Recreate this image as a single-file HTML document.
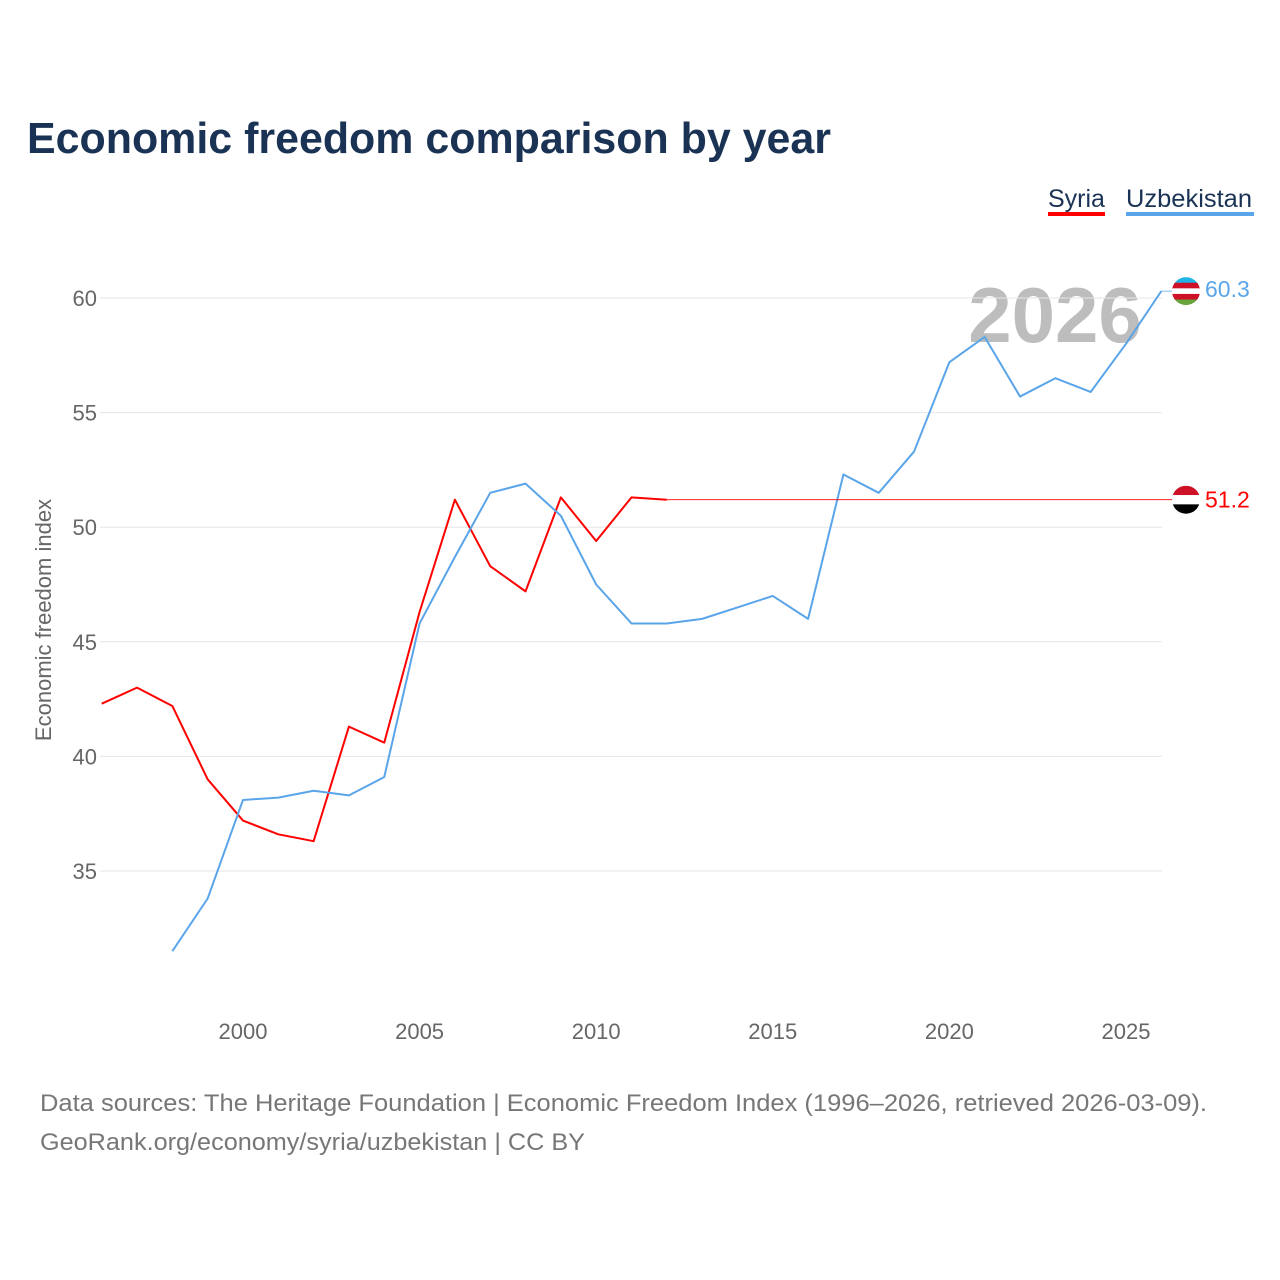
<!DOCTYPE html>
<html><head><meta charset="utf-8">
<style>
body{margin:0;background:#fff;font-family:"Liberation Sans",sans-serif;}
#wrap{position:relative;width:1280px;height:1280px;overflow:hidden;}
</style></head>
<body>
<div id="wrap">
<svg id="chart" width="1280" height="1280">
<text x="27" y="153" font-size="44" font-weight="bold" fill="#1a3354" textLength="804" lengthAdjust="spacingAndGlyphs">Economic freedom comparison by year</text>
<g>
<text x="1048" y="207" font-size="25" fill="#1a3354">Syria</text>
<rect x="1048" y="212" width="57" height="4" fill="#ff0000"/>
<text x="1126" y="207" font-size="25" fill="#1a3354" textLength="126" lengthAdjust="spacingAndGlyphs">Uzbekistan</text>
<rect x="1126" y="212" width="128" height="4" fill="#5aa5ea"/>
</g>
<text x="1055" y="342" font-size="78" font-weight="bold" fill="#bdbdbd" text-anchor="middle">2026</text>
<g id="grid"></g>
<g id="xaxis"></g>
<text transform="translate(51,620) rotate(-90)" font-size="22" fill="#666" text-anchor="middle">Economic freedom index</text>
<g id="series"></g>
<text x="40" y="1111" font-size="24" fill="#777" textLength="1167" lengthAdjust="spacingAndGlyphs">Data sources: The Heritage Foundation | Economic Freedom Index (1996–2026, retrieved 2026-03-09).</text>
<text x="40" y="1150" font-size="24" fill="#777" textLength="545" lengthAdjust="spacingAndGlyphs">GeoRank.org/economy/syria/uzbekistan | CC BY</text>
</svg>
</div>
<script>
const yTicks=[35,40,45,50,55,60];
const xTicks=[2000,2005,2010,2015,2020,2025];
const syriaYears=[1996,1997,1998,1999,2000,2001,2002,2003,2004,2005,2006,2007,2008,2009,2010,2011,2012];
const syriaVals=[42.3,43.0,42.2,39.0,37.2,36.6,36.3,41.3,40.6,46.3,51.2,48.3,47.2,51.3,49.4,51.3,51.2];
const uzbYears=[1998,1999,2000,2001,2002,2003,2004,2005,2006,2007,2008,2009,2010,2011,2012,2013,2014,2015,2016,2017,2018,2019,2020,2021,2022,2023,2024,2025,2026];
const uzbVals=[31.5,33.8,38.1,38.2,38.5,38.3,39.1,45.8,48.7,51.5,51.9,50.5,47.5,45.8,45.8,46.0,46.5,47.0,46.0,52.3,51.5,53.3,57.2,58.3,55.7,56.5,55.9,58.0,60.3];
const lastYear=2026;
const X=y=>101.7+(y-1996)*35.32;
const Y=v=>298+(60-v)*22.92;
const NS="http://www.w3.org/2000/svg";
function mk(tag,attrs,parent){const e=document.createElementNS(NS,tag);for(const k in attrs)e.setAttribute(k,attrs[k]);parent.appendChild(e);return e;}
const grid=document.getElementById('grid');
yTicks.forEach(v=>{
 const l=mk('line',{x1:100,x2:1162,y1:Y(v),y2:Y(v),stroke:'#e6e6e6','stroke-width':1},grid);
 
 
 const t=mk('text',{x:97,y:Y(v)+8,'font-size':22,fill:'#666','text-anchor':'end'},grid);
 t.textContent=v;
 
 
});
const xa=document.getElementById('xaxis');
xTicks.forEach(y=>{
 const t=mk('text',{x:X(y),y:1039,'font-size':22,fill:'#666','text-anchor':'middle'},xa);
 t.textContent=y;
 
 
});
const s=document.getElementById('series');
function line(years,vals,color,name){
 const p=mk('polyline',{points:years.map((y,i)=>X(y)+','+Y(vals[i])).join(' '),fill:'none',stroke:color,'stroke-width':2,'stroke-linejoin':'round'},s);
 
 
}
line(syriaYears,syriaVals,'#ff0000','syria-line');
line(uzbYears,uzbVals,'#5aa5ea','uzbekistan-line');
const sLast=syriaVals[syriaVals.length-1];
const ext=mk('line',{x1:X(syriaYears[syriaYears.length-1]),x2:X(lastYear)+25,y1:Y(sLast),y2:Y(sLast),stroke:'#ff0000','stroke-width':0.8},s);


const uLast=uzbVals[uzbVals.length-1];
const uext=mk('line',{x1:X(lastYear),x2:X(lastYear)+25,y1:Y(uLast),y2:Y(uLast),stroke:'#5aa5ea','stroke-width':0.8},s);


function flag(cy,cols,name){
 const g=mk('g',{},s);
 
 
 const cp='clip-'+name;
 const c=mk('clipPath',{id:cp},g);mk('circle',{cx:1186,cy:cy,r:14},c);
 const h=28/cols.length;
 cols.forEach((col,i)=>mk('rect',{x:1172,y:cy-14+i*h,width:28,height:h+0.5,fill:col,'clip-path':'url(#'+cp+')'},g));
}
flag(Y(sLast),['#ce1126','#ffffff','#000000'],'syria-flag');
flag(Y(uLast),['#1eb5e6','#ce1126','#ffffff','#ce1126','#68a33b'],'uzbekistan-flag');
const sl=mk('text',{x:1205,y:Y(sLast)+8,'font-size':23,fill:'#ff0000'},s);
sl.textContent=sLast.toFixed(1);


const ul=mk('text',{x:1205,y:Y(uLast)+6,'font-size':23,fill:'#5aa5ea'},s);
ul.textContent=uLast.toFixed(1);


</script>
</body></html>
